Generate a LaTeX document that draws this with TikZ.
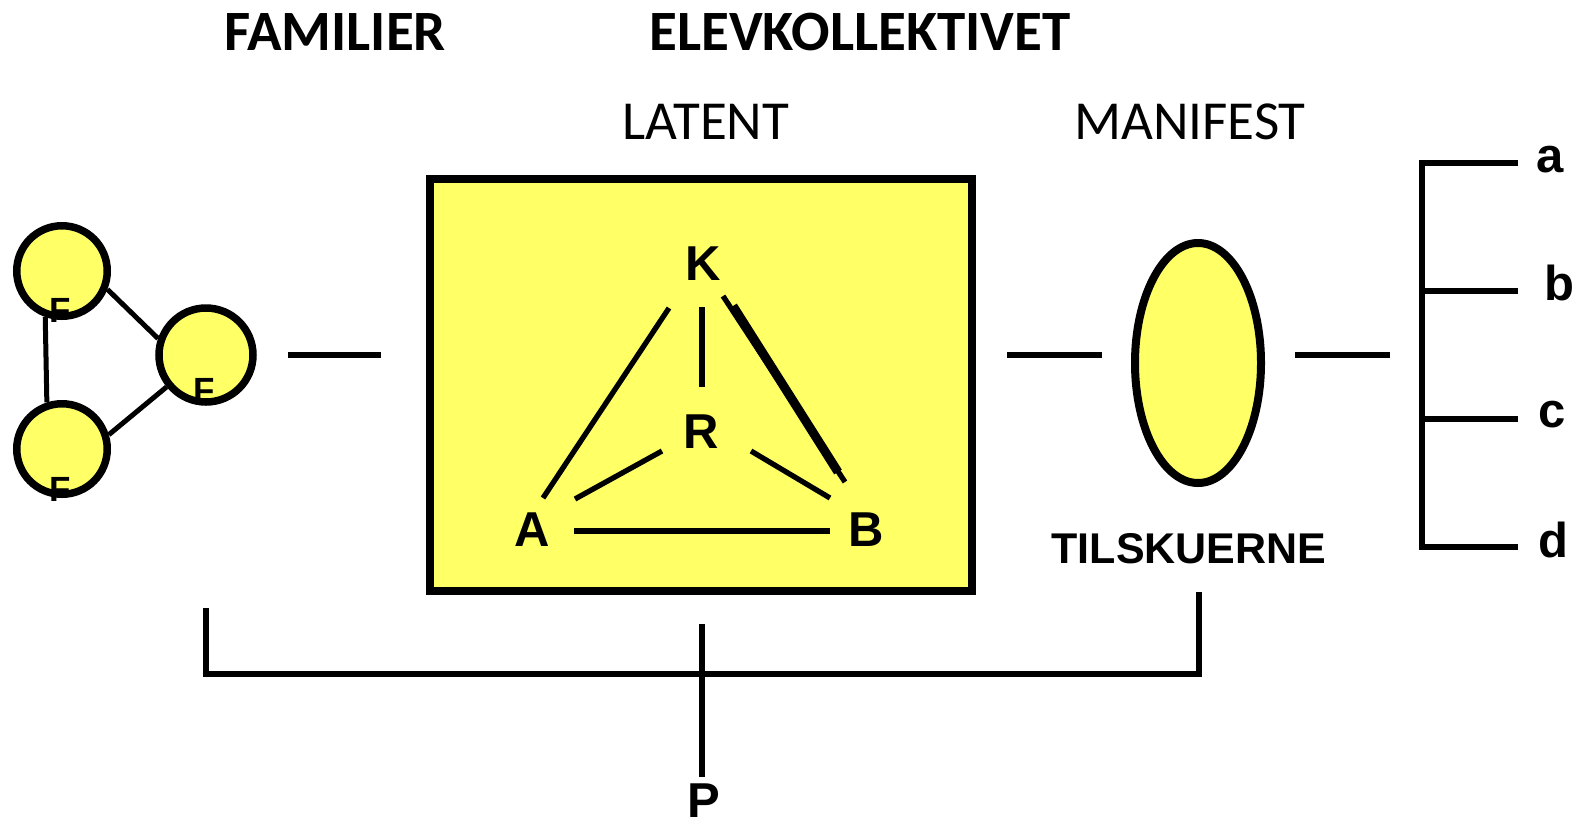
\documentclass[tikz,border=0pt]{standalone}
\usepackage{fontspec}
\setmainfont{Liberation Sans}
\newfontfamily\calfont{Carlito}
\usetikzlibrary{shapes.geometric}
\definecolor{yel}{HTML}{FFFF66}
\begin{document}
\begin{tikzpicture}[x=1pt,y=-1pt,
  conn/.style={line width=6pt},
  tri/.style={line width=5.3pt},
  famcirc/.style={circle,draw,line width=7.5pt,fill=yel,inner sep=0pt,minimum size=#1},
  flabel/.style={anchor=north,inner sep=0pt,font=\fontsize{35}{40}\selectfont\bfseries},
  letter/.style={inner sep=0pt,font=\fontsize{49}{55}\selectfont\bfseries},
  small/.style={anchor=base,inner sep=0pt,font=\fontsize{49}{55}\selectfont\bfseries},
  heading/.style={anchor=base,inner sep=0pt,font=\calfont\fontsize{57}{62}\selectfont\bfseries},
  subheading/.style={anchor=base,inner sep=0pt,font=\calfont\fontsize{55}{60}\selectfont}]
\useasboundingbox (0,0) rectangle (1582,823);

% headings
\node[heading] (fam) at (335,50) {FAMILIER};
\node[heading] (elev) at (860,50) {ELEVKOLLEKTIVET};
\node[subheading] (lat) at (706,139) {LATENT};
\node[subheading] (man) at (1190,139) {MANIFEST};

% family circles
\node[famcirc=90.5pt] (c1) at (62,271) {};
\node[famcirc=94pt] (c2) at (206,355) {};
\node[famcirc=90.5pt] (c3) at (62,449) {};
\draw[line width=5pt] (c1.-22) -- (c2.161);
\draw[line width=5pt] (c2.219) -- (c3.17);
\draw[line width=5pt] (c1.250) -- (c3.108);
\node[flabel] (f1) at (60,298) {F};
\node[flabel] (f2) at (204,378) {F};
\node[flabel] (f3) at (60,477) {F};

% yellow box
\node[draw,line width=8.5pt,fill=yel,minimum width=542pt,minimum height=412pt,inner sep=0pt] (box) at (701,385) {};
\node[letter] (K) at (703,264) {K};
\node[letter] (R) at (701,432) {R};
\node[letter] (A) at (532,530) {A};
\node[letter] (B) at (866,530) {B};
\coordinate (ka1) at (669,308); \coordinate (ka2) at (543,498);
\coordinate (kr1) at (702,307); \coordinate (kr2) at (702,387);
\coordinate (kb1) at (723,296); \coordinate (kb2) at (845,482);
\coordinate (kc1) at (733,306); \coordinate (kc2) at (838,472);
\coordinate (ra1) at (662,451); \coordinate (ra2) at (575,499);
\coordinate (rb1) at (751,451); \coordinate (rb2) at (830,498);
\coordinate (ab1) at (574,531); \coordinate (ab2) at (830,531);
\draw[tri] (ka1) -- (ka2);
\draw[tri] (kr1) -- (kr2);
\draw[tri] (kb1) -- (kb2);
\draw[line width=9pt] (kc1) -- (kc2);
\draw[tri] (ra1) -- (ra2);
\draw[tri] (rb1) -- (rb2);
\draw[tri] (ab1) -- (ab2);

% ellipse
\node[ellipse,draw,line width=8pt,fill=yel,minimum width=126pt,minimum height=240pt,inner sep=0pt] (ell) at (1198,363) {};
\node[anchor=base,inner sep=0pt,font=\fontsize{43}{48}\selectfont\bfseries] (til) at (1189,563) {TILSKUERNE};

% horizontal connectors
\coordinate (h1a) at (288,355); \coordinate (h1b) at (381,355);
\coordinate (h2a) at (1007,355); \coordinate (h2b) at (1102,355);
\coordinate (h3a) at (1295,355); \coordinate (h3b) at (1390,355);
\draw[conn] (h1a) -- (h1b);
\draw[conn] (h2a) -- (h2b);
\draw[conn] (h3a) -- (h3b);

% right bracket
\coordinate (ra) at (1518,163); \coordinate (rta) at (1422,163);
\coordinate (rtd) at (1422,547); \coordinate (rd) at (1518,547);
\coordinate (rtb) at (1422,291); \coordinate (rb) at (1518,291);
\coordinate (rtc) at (1422,419); \coordinate (rc) at (1518,419);
\draw[conn] (ra) -- (rta) -- (rtd) -- (rd);
\draw[conn] (rtb) -- (rb);
\draw[conn] (rtc) -- (rc);
\node[small] (la) at (1550,172) {a};
\node[small] (lb) at (1559,300) {b};
\node[small] (lc) at (1552,427) {c};
\node[small] (ld) at (1553,557) {d};

% bottom bracket
\coordinate (bl) at (206,608); \coordinate (blc) at (206,674);
\coordinate (brc) at (1199,674); \coordinate (br) at (1199,592);
\coordinate (bm1) at (702,624); \coordinate (bm2) at (702,777);
\draw[conn] (bl) -- (blc) -- (brc) -- (br);
\draw[conn] (bm1) -- (bm2);
\node[letter,anchor=north] (P) at (704,784) {P};
\end{tikzpicture}
\end{document}
